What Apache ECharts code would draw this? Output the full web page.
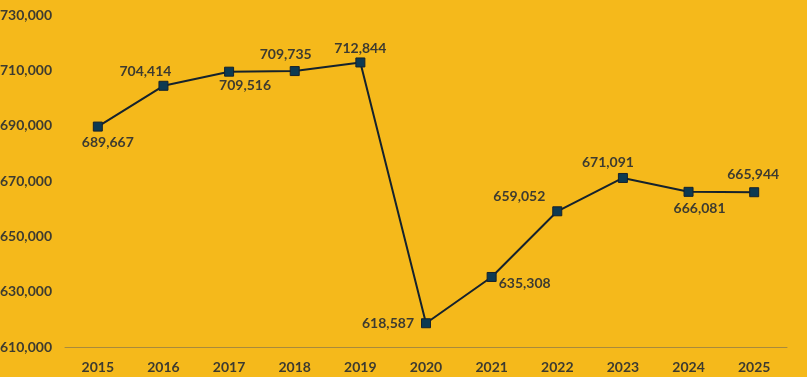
<!DOCTYPE html>
<html><head><meta charset="utf-8">
<script src="https://cdn.jsdelivr.net/npm/echarts@6/dist/echarts.min.js"></script>
<style>html,body{margin:0;padding:0;background:#F5B91B;}#c{width:807px;height:377px;}</style>
</head><body><div id="c"></div>
<script>
var years = ['2015','2016','2017','2018','2019','2020','2021','2022','2023','2024','2025'];
var values = [689667,704414,709516,709735,712844,618587,635308,659052,671091,666081,665944];
var labelPos = ['bottom','top','bottom','top','top','left','right','top','top','bottom','top'];
var labelOffsets = [[10,2],[-18,0],[16,0],[-9,-3],[0,0],[-5,0],[0,7],[-38,-1],[-15,-1],[11,3],[-1,-4]];
var chart = echarts.init(document.getElementById('c'));
var font = 'Lato, "Open Sans", sans-serif';
var txt = '#3d3b30';
chart.setOption({
  backgroundColor: '#F5B91B',
  animation: false,
  grid: {left: 65, right: 20, top: 15, bottom: 30, containLabel: false, outerBoundsMode: 'none'},
  xAxis: {
    type: 'category', data: years, boundaryGap: true,
    axisLine: {lineStyle: {color: '#a98a3c', width: 1}},
    axisTick: {show: false},
    axisLabel: {color: txt, fontFamily: font, fontWeight: 'bold', fontSize: 14, margin: 13}
  },
  yAxis: {
    type: 'value', min: 610000, max: 730000, interval: 20000,
    splitLine: {show: false}, axisLine: {show: false}, axisTick: {show: false},
    axisLabel: {color: txt, fontFamily: font, fontWeight: 'bold', fontSize: 14, margin: 13,
      formatter: function(v){return v.toLocaleString('en-US');}}
  },
  series: [{
    type: 'line', data: values.map(function(v,i){
      return {value: v, label: {position: labelPos[i], offset: labelOffsets[i]}};
    }),
    symbol: 'rect', symbolSize: 9,
    lineStyle: {color: '#15222d', width: 2},
    itemStyle: {color: '#0d3a52', borderColor: '#15222d', borderWidth: 1},
    label: {show: true, color: txt, fontFamily: font, fontWeight: 'bold', fontSize: 14, distance: 2,
      formatter: function(p){return p.value.toLocaleString('en-US');}}
  }]
});
</script></body></html>
